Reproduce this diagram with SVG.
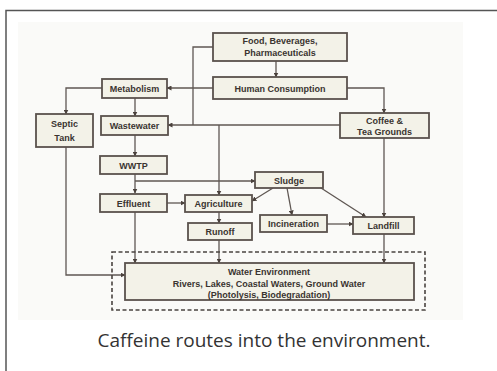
<svg xmlns="http://www.w3.org/2000/svg" width="497" height="371" viewBox="0 0 497 371">
<defs>
<marker id="ah" markerWidth="5" markerHeight="5" refX="4.5" refY="2.5" orient="auto" markerUnits="userSpaceOnUse">
<path d="M0,0 L5,2.5 L0,5 Z" fill="#4a413c"/>
</marker>
<style>
.box{fill:#f3f2e8;stroke:#5a524d;stroke-width:1.8}
.t{font-family:"Liberation Sans",Arial,sans-serif;font-size:9px;font-weight:bold;fill:#3a3430;text-anchor:middle}
.c{fill:none;stroke:#5f5753;stroke-width:1.3}
.ca{fill:none;stroke:#5f5753;stroke-width:1.3;marker-end:url(#ah)}
</style>
</defs>
<rect x="0" y="0" width="497" height="371" fill="#ffffff"/>
<rect x="18" y="22" width="445" height="298" fill="#fafaf8"/>
<path d="M6,371 V10.5 H497" fill="none" stroke="#555" stroke-width="1.5"/>

<g id="connectors">
<path class="ca" d="M276,61 V77"/>
<path class="ca" d="M213,88 H167"/>
<path class="c" d="M213,47 H193 V125"/>
<path class="ca" d="M340,125 H168"/>
<path class="ca" d="M347,88 H384 V113"/>
<path class="ca" d="M102,88 H66 V114"/>
<path class="ca" d="M135,98 V116"/>
<path class="ca" d="M135,135 V156"/>
<path class="ca" d="M135,174 V193"/>
<path class="ca" d="M135,181 H255"/>
<path class="ca" d="M219,125 V195"/>
<path class="ca" d="M167,203 H185"/>
<path class="ca" d="M273,188 L252,201"/>
<path class="ca" d="M287,188 L292,215"/>
<path class="ca" d="M321,188 L366,217"/>
<path class="ca" d="M327,224 H353"/>
<path class="ca" d="M384,138 V217"/>
<path class="ca" d="M384,234 V263"/>
<path class="ca" d="M135,212 V263"/>
<path class="ca" d="M219,212 V223"/>
<path class="ca" d="M219,240 V263"/>
<path class="ca" d="M66,147 V275 H125"/>
</g>

<g id="food">
<rect class="box" x="213" y="33" width="134" height="28"/>
<text class="t" x="280" y="44">Food, Beverages,</text>
<text class="t" x="280" y="56">Pharmaceuticals</text>
</g>
<g id="human">
<rect class="box" x="213" y="77" width="134" height="22"/>
<text class="t" x="280" y="91.5">Human Consumption</text>
</g>
<g id="metabolism">
<rect class="box" x="102" y="79" width="65" height="19"/>
<text class="t" x="134.5" y="91.5">Metabolism</text>
</g>
<g id="septic">
<rect class="box" x="36" y="114" width="57" height="33"/>
<text class="t" x="64.5" y="126.5">Septic</text>
<text class="t" x="64.5" y="140.5">Tank</text>
</g>
<g id="wastewater">
<rect class="box" x="101" y="116" width="67" height="19"/>
<text class="t" x="134.5" y="128.5">Wastewater</text>
</g>
<g id="coffee">
<rect class="box" x="340" y="113" width="89" height="25"/>
<text class="t" x="384.5" y="123.5">Coffee &amp;</text>
<text class="t" x="384.5" y="135">Tea Grounds</text>
</g>
<g id="wwtp">
<rect class="box" x="100" y="156" width="67" height="18"/>
<text class="t" x="133.5" y="168.5">WWTP</text>
</g>
<g id="sludge">
<rect class="box" x="255" y="172" width="68" height="16"/>
<text class="t" x="289" y="183.5">Sludge</text>
</g>
<g id="effluent">
<rect class="box" x="100" y="194" width="67" height="18"/>
<text class="t" x="133.5" y="206.5">Effluent</text>
</g>
<g id="agriculture">
<rect class="box" x="185" y="195" width="67" height="17"/>
<text class="t" x="218.5" y="206.5">Agriculture</text>
</g>
<g id="runoff">
<rect class="box" x="188" y="223" width="64" height="17"/>
<text class="t" x="220" y="234.5">Runoff</text>
</g>
<g id="incineration">
<rect class="box" x="260" y="215" width="67" height="17"/>
<text class="t" x="293.5" y="226.5">Incineration</text>
</g>
<g id="landfill">
<rect class="box" x="353" y="217" width="61" height="17"/>
<text class="t" x="383.5" y="228.5">Landfill</text>
</g>
<g id="water">
<rect x="112" y="252" width="313" height="58" fill="none" stroke="#4a4440" stroke-width="1.6" stroke-dasharray="4,2.5"/>
<rect class="box" x="125" y="263" width="289" height="37"/>
<text class="t" x="269" y="274.5">Water Environment</text>
<text class="t" x="269" y="286.5">Rivers, Lakes, Coastal Waters, Ground Water</text>
<text class="t" x="269" y="298">(Photolysis, Biodegradation)</text>
</g>

<text x="264" y="347" font-family="'Open Sans','Noto Sans',sans-serif" font-size="19" fill="#333" text-anchor="middle">Caffeine routes into the environment.</text>
</svg>
